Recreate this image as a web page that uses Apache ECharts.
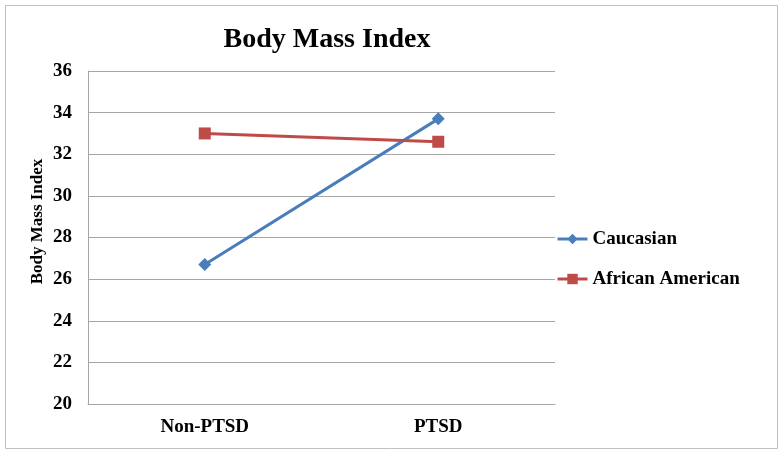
<!DOCTYPE html>
<html><head><meta charset="utf-8">
<script src="https://cdn.jsdelivr.net/npm/echarts@6/dist/echarts.min.js"></script>
<style>html,body{margin:0;padding:0;background:#fff}#c{width:784px;height:454px}</style>
</head><body><div id="c"></div>
<script>
const categories = ['Non-PTSD', 'PTSD'];
const caucasian = [26.7, 33.7];
const africanAmerican = [33.0, 32.6];
const yTicks = [20, 22, 24, 26, 28, 30, 32, 34, 36];

const font = '"Liberation Serif","Times New Roman",serif';
const chart = echarts.init(document.getElementById('c'));
chart.setOption({
  backgroundColor: '#fff',
  animation: false,
  title: {
    text: 'Body Mass Index', left: 322, top: 21, textAlign: 'center',
    textStyle: { fontFamily: font, fontWeight: 'bold', fontSize: 28, color: '#000' }
  },
  graphic: [{
    type: 'rect', shape: { x: 5.5, y: 5.5, width: 772, height: 443 },
    style: { fill: 'none', stroke: '#bfbfbf', lineWidth: 1 }, silent: true
  }],
  grid: { left: 88, right: 229, top: 71, bottom: 50 },
  legend: {
    orient: 'vertical', left: 551, top: 224, itemGap: 20,
    itemWidth: 30, itemHeight: 13,
    textStyle: { fontFamily: font, fontWeight: 'bold', fontSize: 19, color: '#000', lineHeight: 20 },
    data: [
      { name: 'Caucasian', lineStyle: { width: 3 } },
      { name: 'African American', lineStyle: { width: 3 } }
    ]
  },
  xAxis: {
    type: 'category', data: categories, boundaryGap: true,
    axisLine: { lineStyle: { color: '#a6a6a6', width: 1 } },
    axisTick: { show: false },
    axisLabel: { fontFamily: font, fontWeight: 'bold', fontSize: 19, color: '#000', margin: 14 }
  },
  yAxis: {
    type: 'value', min: yTicks[0], max: yTicks[yTicks.length - 1], interval: 2,
    name: 'Body Mass Index', nameLocation: 'middle', nameGap: 42, nameRotate: 90,
    nameMoveOverlap: false,
    nameTextStyle: { fontFamily: font, fontWeight: 'bold', fontSize: 17, color: '#000', padding: [0, 0, 0, 32] },
    axisLine: { show: true, lineStyle: { color: '#a6a6a6', width: 1 } },
    axisTick: { show: false },
    splitLine: { lineStyle: { color: '#a6a6a6', width: 1 } },
    axisLabel: { fontFamily: font, fontWeight: 'bold', fontSize: 19, color: '#000', margin: 16 }
  },
  series: [
    { name: 'Caucasian', type: 'line', data: caucasian, symbol: 'diamond', symbolSize: 13,
      lineStyle: { color: '#4a7ebb', width: 3 }, itemStyle: { color: '#4a7ebb' } },
    { name: 'African American', type: 'line', data: africanAmerican, symbol: 'rect', symbolSize: 12,
      lineStyle: { color: '#be4b48', width: 3 }, itemStyle: { color: '#be4b48' } }
  ]
});
</script></body></html>
